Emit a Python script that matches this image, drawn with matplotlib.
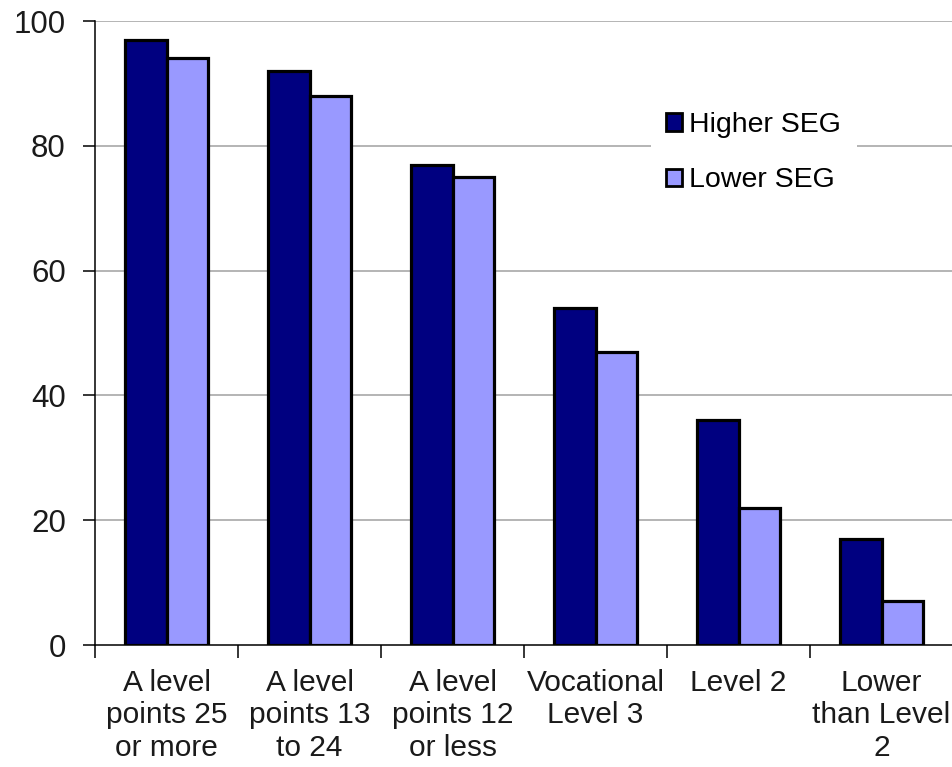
import matplotlib
matplotlib.use("Agg")
import matplotlib.pyplot as plt
import numpy as np

categories = [
    "A level\npoints 25\nor more",
    "A level\npoints 13\nto 24",
    "A level\npoints 12\nor less",
    "Vocational\nLevel 3",
    "Level 2",
    "Lower\nthan Level\n2",
]
higher_seg = [97, 92, 77, 54, 36, 17]
lower_seg = [94, 88, 75, 47, 22, 7]
y_ticks = [0, 20, 40, 60, 80, 100]

plt.rcParams["font.family"] = ["Liberation Sans", "DejaVu Sans"]

fig = plt.figure(figsize=(9.53, 7.67), dpi=100)
ax = fig.add_axes([0.0997, 0.159, 0.9003, 0.8136])

centers = np.arange(len(categories)) + 0.5
w = 0.29
ax.bar(centers - w / 2, higher_seg, width=w, color="#000080",
       edgecolor="black", linewidth=2.3, label="Higher SEG", zorder=3)
ax.bar(centers + w / 2, lower_seg, width=w, color="#9999FF",
       edgecolor="black", linewidth=2.3, label="Lower SEG", zorder=3)

ax.set_xlim(0, len(categories))
ax.set_ylim(0, 100)
ax.set_yticks(y_ticks)
ax.set_yticklabels([str(v) for v in y_ticks], fontsize=22.5, color="#1a1a1a")
for v in y_ticks[1:]:
    ax.axhline(v, color="#a0a0a0", linewidth=1.1, zorder=1)

# category boundaries as major ticks, labels on minor ticks at centres
ax.set_xticks(np.arange(len(categories) + 1))
ax.set_xticklabels([])
ax.set_xticks(centers, minor=True)
ax.set_xticklabels(categories, minor=True, fontsize=21.5, color="#1a1a1a",
                   linespacing=1.22)
ax.tick_params(axis="x", which="major", direction="out", length=9,
               width=1.1, color="black")
ax.tick_params(axis="x", which="minor", length=0, pad=17)
ax.tick_params(axis="y", direction="out", length=9, width=1.1,
               color="black", pad=12)

for side in ["top", "right"]:
    ax.spines[side].set_visible(False)
for side in ["left", "bottom"]:
    ax.spines[side].set_linewidth(1.1)
    ax.spines[side].set_color("black")
    ax.spines[side].set_zorder(4)

leg = ax.legend(loc="center", bbox_to_anchor=(0.791, 0.801),
                bbox_transform=fig.transFigure, fontsize=20.5,
                frameon=True, fancybox=False, edgecolor="none",
                facecolor="white", framealpha=1.0,
                handlelength=0.55, handleheight=0.55, handletextpad=0.25,
                labelspacing=1.02, borderpad=0.55)
for h in leg.legend_handles:
    h.set_linewidth(2.0)

fig.savefig("out.png", dpi=100, facecolor="white")
